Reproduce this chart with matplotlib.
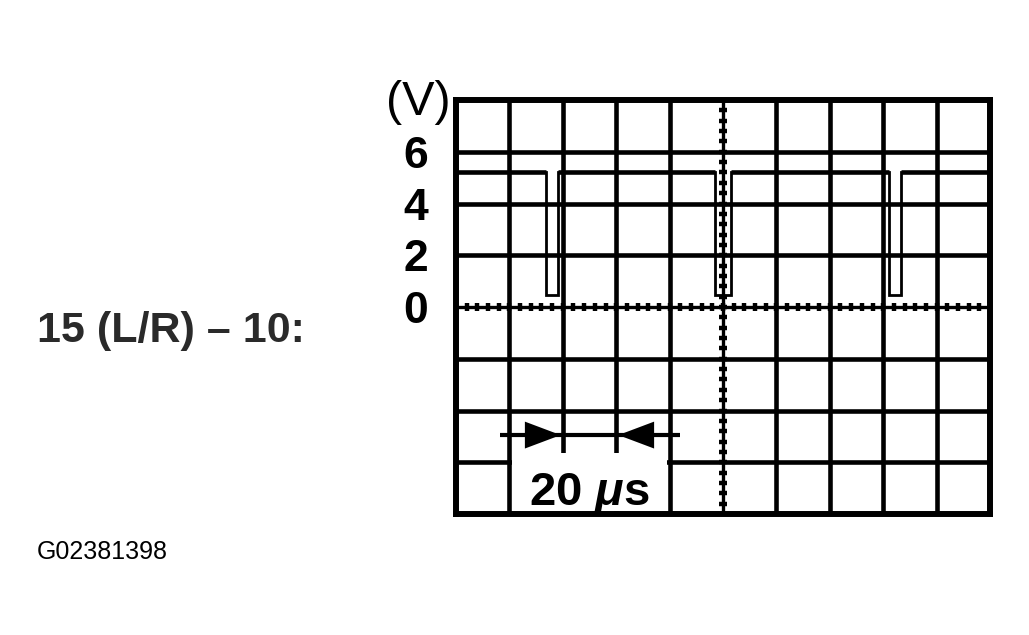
import matplotlib
matplotlib.use("Agg")
import matplotlib.pyplot as plt
from matplotlib.patches import Rectangle, Polygon

plt.rcParams['font.family'] = ['Liberation Sans', 'DejaVu Sans']
plt.rcParams['mathtext.fontset'] = 'custom'
plt.rcParams['mathtext.it'] = 'Liberation Sans:italic:bold'
plt.rcParams['mathtext.rm'] = 'Liberation Sans:bold'

# scope settings: 20 us/div, 2 V/div, 10 x 8 divisions
time_grid = [20, 40, 60, 80, 120, 140, 160, 180]      # interior vertical lines (us)
volt_grid = [-6, -4, -2, 2, 4, 6]                     # interior horizontal lines (V)
volt_labels = [0, 2, 4, 6]

# pulse train
pulse_fall = [33.7, 97.0, 162.2]   # us
pulse_rise = [38.2, 103.0, 166.7]  # us
v_high = 5.2
v_low = 0.45

# build the stepped waveform
t = [0]
v = [v_high]
for f, r in zip(pulse_fall, pulse_rise):
    t += [f, f, r, r]
    v += [v_high, v_low, v_low, v_high]
t.append(200)
v.append(v_high)

fig = plt.figure(figsize=(10.29, 6.35), dpi=100)
ax = fig.add_axes([456 / 1029, (635 - 514) / 635, (990 - 456) / 1029, (514 - 100) / 635])
ax.set_xlim(0, 200)
ax.set_ylim(-8, 8)

# graticule
for x in time_grid:
    ax.axvline(x, color='black', lw=3.3, zorder=1)
for y in volt_grid:
    ax.axhline(y, color='black', lw=3.3, zorder=1)

# centre lines with small bumps every 0.2 div
ax.axvline(100, color='black', lw=2.4, zorder=1)
ax.axhline(0, color='black', lw=2.4, zorder=1)
minor_t = [i * 4 for i in range(51)]
minor_v = [-8 + i * 0.4 for i in range(41)]
ax.plot(minor_t, [0] * len(minor_t), ls='none', marker='|', ms=5.5, mew=3.2, color='black', zorder=1)
ax.plot([100] * len(minor_v), minor_v, ls='none', marker='_', ms=5.5, mew=3.2, color='black', zorder=1)

for s in ax.spines.values():
    s.set_linewidth(4.3)

# waveform
ax.plot(t, v, color='black', lw=2.0, zorder=2, solid_joinstyle='miter')
high_starts = [0] + pulse_rise
high_ends = pulse_fall + [200]
for a, b in zip(high_starts, high_ends):
    ax.plot([a, b], [v_high, v_high], color='black', lw=3.3, zorder=2, solid_capstyle='butt')

# time-base marker: box, arrow line and heads
ax.add_patch(Rectangle((21, -7.9), 58, 2.26, facecolor='white', edgecolor='none', zorder=1.5))
arrow_y = -4.95
ax.plot([16.5, 83.9], [arrow_y, arrow_y], color='black', lw=3.0, zorder=2, solid_capstyle='butt')
ax.add_patch(Polygon([[25.8, arrow_y + 0.52], [39.2, arrow_y], [25.8, arrow_y - 0.52]],
                     closed=True, facecolor='black', edgecolor='none', zorder=2))
ax.add_patch(Polygon([[74.2, arrow_y + 0.52], [60.8, arrow_y], [74.2, arrow_y - 0.52]],
                     closed=True, facecolor='black', edgecolor='none', zorder=2))
ax.text(50, -7.65, r'20 $\mu$s', ha='center', va='baseline', fontsize=34, fontweight='bold', zorder=3)

ax.set_xticks([])
ax.set_yticks(volt_labels)
ax.set_yticklabels([str(x) for x in volt_labels], fontsize=32, fontweight='bold')
ax.tick_params(axis='y', length=0, pad=20)

fig.text(418 / 1029, 1 - 115 / 635, '(V)', ha='center', va='baseline', fontsize=35)
fig.text(37 / 1029, 1 - 342 / 635, '15 (L/R) – 10:', ha='left', va='baseline',
         fontsize=31, fontweight='bold', color='#2a2a2a')
fig.text(37 / 1029, 1 - 559 / 635, 'G02381398', ha='left', va='baseline', fontsize=18)

fig.savefig('out.png', dpi=100)
